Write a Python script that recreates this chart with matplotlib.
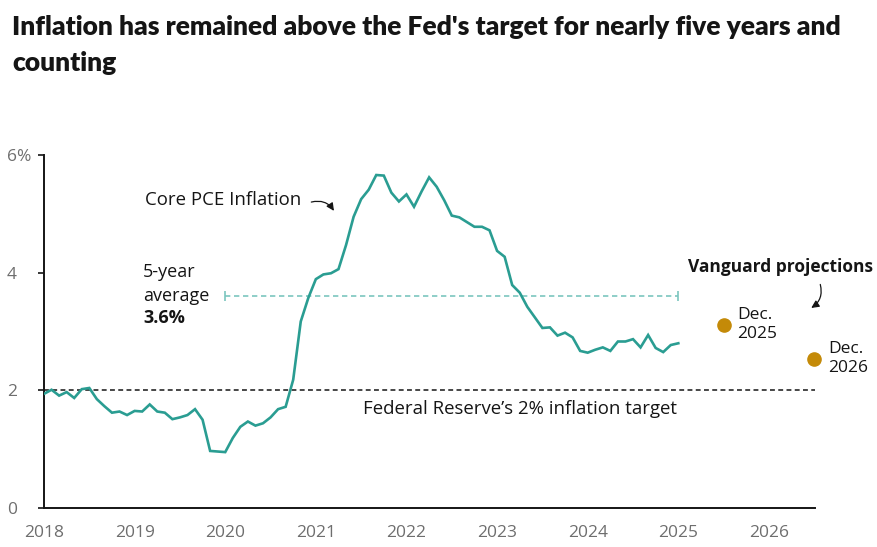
import matplotlib
matplotlib.use("Agg")
import matplotlib.pyplot as plt
import numpy as np

# ---- data ----
core_pce = [1.94, 2.01, 1.91, 1.97, 1.87, 2.02, 2.04, 1.85, 1.73, 1.62, 1.64, 1.58,
            1.65, 1.64, 1.76, 1.64, 1.62, 1.51, 1.54, 1.58, 1.68, 1.50, 0.97, 0.96,
            0.95, 1.19, 1.38, 1.47, 1.40, 1.44, 1.54, 1.68, 1.72, 2.18, 3.17, 3.57,
            3.89, 3.97, 3.99, 4.06, 4.47, 4.95, 5.25, 5.41, 5.66, 5.65, 5.36, 5.21,
            5.33, 5.12, 5.38, 5.62, 5.46, 5.23, 4.97, 4.94, 4.86, 4.78, 4.78, 4.72,
            4.37, 4.27, 3.79, 3.66, 3.42, 3.24, 3.06, 3.07, 2.93, 2.98, 2.90, 2.67,
            2.64, 2.69, 2.73, 2.67, 2.83, 2.83, 2.87, 2.73, 2.94, 2.72, 2.65, 2.77,
            2.80]
months = list(range(len(core_pce)))          # monthly index on the chart's axis
avg_value = 3.6
avg_start, avg_end = 24, 84
target = 2.0
proj_x = [90, 102]
proj_vals = [3.11, 2.53]
proj_labels = ["Dec.\n2025", "Dec.\n2026"]
year_ticks = [0, 12, 24, 36, 48, 60, 72, 84, 96]
year_labels = ["2018", "2019", "2020", "2021", "2022", "2023", "2024", "2025", "2026"]
y_ticks = [0, 2, 4, 6]
y_labels = ["0", "2", "4", "6%"]

TEAL = "#2a9d92"
LTEAL = "#7cc6bf"
GOLD = "#c48a08"
GREY = "#6e6e6e"
BLACK = "#151515"

plt.rcParams['font.family'] = ['Open Sans', 'DejaVu Sans']

fig = plt.figure(figsize=(8.78, 5.47), dpi=100)
ax = fig.add_axes([44/878, 1-508/547, (815-44)/878, (508-155)/547])
ax.set_xlim(0, 102.1)
ax.set_ylim(0, 6)

ax.plot(months, core_pce, color=TEAL, lw=1.9, solid_joinstyle='miter', zorder=3)
ax.hlines(target, 0, 102.1, colors=BLACK, linestyles=(0, (3.2, 2.2)), lw=1.1, zorder=2)
ax.hlines(avg_value, avg_start, avg_end, colors=LTEAL, linestyles=(0, (3.2, 2.2)), lw=1.2, zorder=2)
ax.plot([avg_start, avg_end], [avg_value, avg_value], ls='none', marker='|',
        ms=7, mew=1.2, color=LTEAL, zorder=2)
ax.plot(proj_x, proj_vals, ls='none', marker='o', ms=9.5, color=GOLD, clip_on=False, zorder=4)

for s in ['top', 'right']:
    ax.spines[s].set_visible(False)
for s in ['left', 'bottom']:
    ax.spines[s].set_linewidth(1.4)
    ax.spines[s].set_color(BLACK)

ax.set_xticks(year_ticks)
ax.set_xticklabels(year_labels)
ax.set_yticks(y_ticks)
ax.set_yticklabels(y_labels)
ax.tick_params(axis='x', length=0, pad=12, labelsize=12.5, labelcolor=GREY)
ax.tick_params(axis='y', length=4.3, width=1.2, pad=22.5, labelsize=12.5, labelcolor=GREY, color=BLACK)
for lab in ax.get_yticklabels():
    lab.set_horizontalalignment('left')

fs = 13.4
arrow_kw = dict(arrowstyle='-|>,head_length=0.45,head_width=0.22', color=BLACK,
                lw=0.9, shrinkA=0, shrinkB=0)
ax.text(13.4, 5.24, "Core PCE Inflation", fontsize=fs, color=BLACK, ha='left', va='center')
ax.annotate("", xy=(38.4, 5.05), xytext=(35.4, 5.20),
            arrowprops=dict(connectionstyle='arc3,rad=-0.35', **arrow_kw))
ax.text(13.1, 4.01, "5-year", fontsize=13, color=BLACK, ha='left', va='center')
ax.text(13.1, 3.61, "average", fontsize=13, color=BLACK, ha='left', va='center')
ax.text(13.1, 3.23, "3.6%", fontsize=13, color=BLACK, ha='left', va='center', fontweight='bold')
ax.text(42.3, 1.68, "Federal Reserve\u2019s 2% inflation target", fontsize=fs, color=BLACK,
        ha='left', va='center')
ax.text(109.8, 4.10, "Vanguard projections", fontsize=12.5, color=BLACK, ha='right', va='center',
        fontweight='bold')
ax.annotate("", xy=(101.6, 3.40), xytext=(102.8, 3.80),
            arrowprops=dict(connectionstyle='arc3,rad=-0.35', **arrow_kw), annotation_clip=False)
for x, v, lab in zip(proj_x, proj_vals, proj_labels):
    ax.text(x + 1.8, v + 0.01, lab, fontsize=12.5, color=BLACK, ha='left', va='center',
            linespacing=1.25)

title_font = ['Lato', 'DejaVu Sans']
fig.text(12/878, 1-27/547, "Inflation has remained above the Fed's target for nearly five years and",
         fontsize=19, fontweight='heavy', color=BLACK, ha='left', va='center', family=title_font)
fig.text(12/878, 1-63/547, "counting", fontsize=19, fontweight='heavy', color=BLACK,
         ha='left', va='center', family=title_font)

fig.savefig("out.png", dpi=100)
